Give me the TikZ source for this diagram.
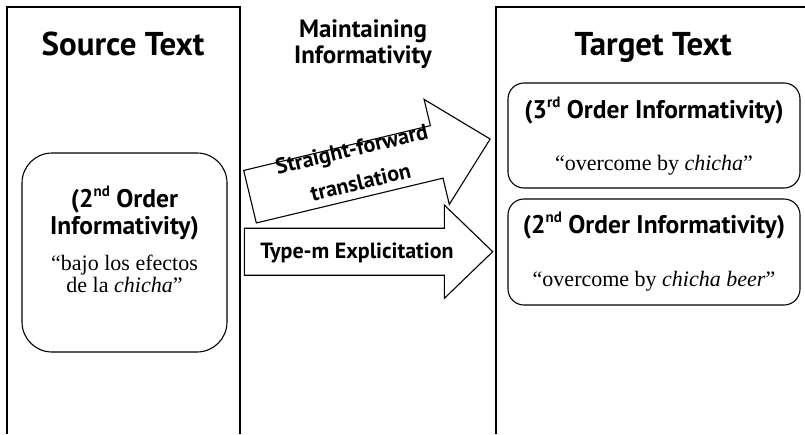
\documentclass[tikz,border=0pt]{standalone}
\usepackage{fontspec}
\setmainfont{Liberation Serif}
\newfontfamily\headfont{PT Sans}
\begin{document}
\begin{tikzpicture}[x=1pt,y=-1pt,
  panel/.style={line width=1.3pt},
  infobox/.style={draw,line width=1.1pt,inner sep=0pt},
  arrowshape/.style={draw,line width=1.1pt,fill=white,line join=miter},
  heading/.style={font=\headfont\bfseries\fontsize{33}{33}\selectfont,anchor=base,inner sep=0pt},
  midhead/.style={font=\headfont\bfseries\fontsize{25}{25}\selectfont,anchor=base,inner sep=0pt},
  subhead/.style={font=\headfont\bfseries\fontsize{25.5}{25.5}\selectfont,anchor=base,inner sep=0pt},
  arrowlabel/.style={font=\headfont\bfseries\fontsize{22}{22}\selectfont,anchor=base,inner sep=0pt},
  quote/.style={font=\fontsize{22}{22}\selectfont,anchor=base,inner sep=0pt}]
\newcommand{\ordsup}[1]{\raisebox{0.42em}{\fontsize{15}{15}\selectfont #1}}
\useasboundingbox (0,0) rectangle (805,434);
\fill[white] (0,0) rectangle (805,434);

% the two text columns, open at the bottom
\coordinate (srcbl) at (7,434);
\coordinate (srcbr) at (240,434);
\coordinate (tgtbl) at (496,434);
\coordinate (tgtr) at (805,7);
\draw[panel] (srcbl) -- (7,7) -- (240,7) -- (srcbr);
\draw[panel] (tgtbl) -- (496,7) -- (tgtr);

\node[heading] (srctitle) at (123,55) {Source Text};
\node[heading] (tgttitle) at (653,55) {Target Text};
\node[midhead] (midtitle1) at (363,37) {Maintaining};
\node[midhead] (midtitle2) at (363,63) {Informativity};

% source box
\node[infobox,rounded corners=30pt,minimum width=205pt,minimum height=199pt] (srcbox) at (124.5,252.5) {};
\node[subhead] (srcord1) at (124.5,207) {(2\ordsup{nd} Order};
\node[subhead] (srcord2) at (124.5,234) {Informativity)};
\node[quote] (srcq1) at (124.5,270) {``bajo los efectos};
\node[quote] (srcq2) at (124.5,292) {de la \textit{chicha}''};

% target boxes
\node[infobox,rounded corners=16pt,minimum width=292pt,minimum height=105pt] (tgtbox1) at (654,135.5) {};
\node[subhead] (tgtord1) at (654,118) {(3\ordsup{rd} Order Informativity)};
\node[quote] (tgtq1) at (654,170) {``overcome by \textit{chicha}''};
\node[infobox,rounded corners=16pt,minimum width=292pt,minimum height=106pt] (tgtbox2) at (654,252) {};
\node[subhead] (tgtord2) at (654,233) {(2\ordsup{nd} Order Informativity)};
\node[quote] (tgtq2) at (654,286) {``overcome by \textit{chicha beer}''};

% straight-forward translation arrow (tilted)
\begin{scope}[shift={(250,196.7)},rotate=13.5]
  \draw[arrowshape] (0,-27) -- (192,-27) -- (192,-54) -- (247,0) -- (192,54) -- (192,27) -- (0,27) -- cycle;
  \node[arrowlabel,transform shape] (sf1) at (110,-15) {Straight-forward};
  \node[arrowlabel,transform shape] (sf2) at (111,19) {translation};
\end{scope}

% type-m explicitation arrow
\begin{scope}[shift={(244.3,251.7)}]
  \draw[arrowshape] (0,-23.5) -- (200,-23.5) -- (200,-46.7) -- (248.4,0) -- (200,46.7) -- (200,23.5) -- (0,23.5) -- cycle;
\end{scope}
\node[arrowlabel] (typem) at (357,258) {Type-m Explicitation};
\end{tikzpicture}
\end{document}
